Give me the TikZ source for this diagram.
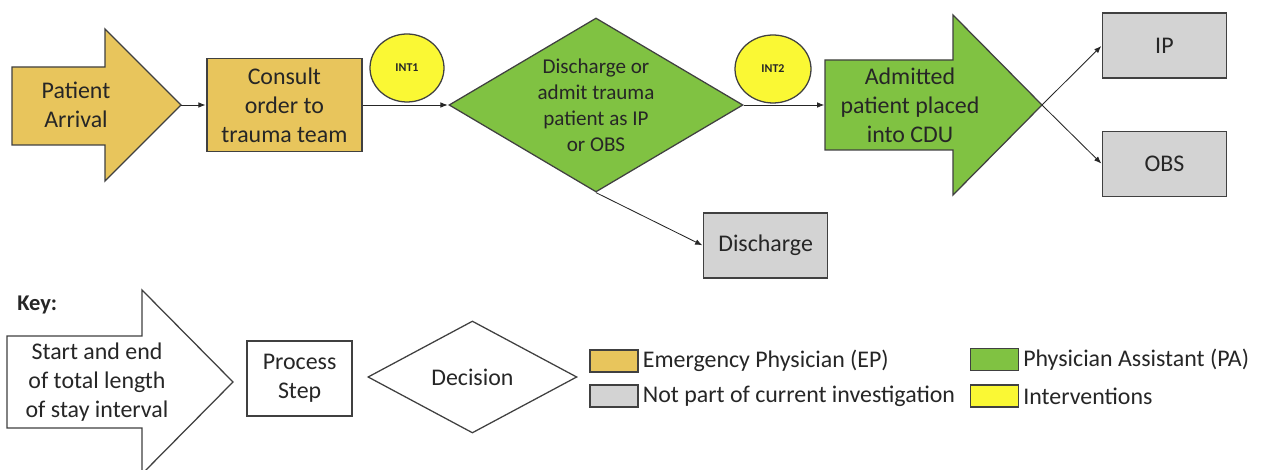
\documentclass[tikz,border=0pt]{standalone}
\usepackage{fontspec}
\setmainfont{Carlito}
\usetikzlibrary{arrows.meta,positioning,shapes.geometric}
\definecolor{epgold}{RGB}{232,197,92}
\definecolor{pagreen}{RGB}{128,194,66}
\definecolor{notgrey}{RGB}{211,211,211}
\definecolor{intyellow}{RGB}{250,248,52}

\begin{document}
\begin{tikzpicture}[
  font=\fontsize{17}{20.5}\selectfont,text=black!85,
  outline/.style={draw=black!75,line width=0.9pt},
  box/.style={outline,align=center,inner sep=2pt,
    minimum width=31mm,minimum height=16.25mm},
  stepbox/.style={box,fill=epgold,minimum width=38.75mm,minimum height=23.25mm},
  greybox/.style={box,fill=notgrey},
  decide/.style={outline,diamond,aspect=1.7,inner sep=0pt,align=center},
  intnode/.style={outline,ellipse,fill=intyellow,minimum width=18.5mm,
    minimum height=17mm,inner sep=0pt,font=\fontsize{8.5}{10}\selectfont\bfseries},
  swatch/.style={outline,line width=0.8pt,minimum width=12mm,
    minimum height=5.5mm,inner sep=0pt},
  keytext/.style={inner sep=0pt},
  flow/.style={-{Latex[length=1.8mm,width=1.4mm]},
    draw=black!85,line width=0.6pt,shorten >=0.5pt}]
\path[use as bounding box,fill=white] (0,0) rectangle (31.575,11.75);

% start of stay
\draw[outline,fill=epgold] (0.3,10.075)--(2.625,10.075)--(2.625,11.025)--
  (4.525,9.125)--(2.625,7.225)--(2.625,8.125)--(0.3,8.125)--cycle;
\coordinate (arrival_tip) at (4.525,9.125);
\node[align=center] (arrival) at (1.9,9.125) {Patient\\Arrival};

\node[stepbox] (consult) at (7.11,9.125) {Consult\\order to\\trauma team};
\node[intnode] (int1) at (10.175,10.05) {INT1};
\node[decide,fill=pagreen,minimum width=73.5mm,minimum height=43.5mm,
  font=\fontsize{15}{18.4}\selectfont] (choice) at (14.9,9.125)
  {Discharge or\\admit trauma\\patient as IP\\or OBS};
\node[intnode,minimum width=19mm] (int2) at (19.325,10.025) {INT2};

% end of stay
\draw[outline,fill=pagreen] (20.625,10.25)--(23.825,10.25)--(23.825,11.375)--
  (26.05,9.125)--(23.825,6.875)--(23.825,8.0)--(20.625,8.0)--cycle;
\coordinate (cdu_tail) at (20.625,9.125);
\coordinate (cdu_tip) at (26.05,9.125);
\node[align=center] (cdu) at (22.75,9.125) {Admitted\\patient placed\\into CDU};

\node[greybox] (ip) at (29.11,10.61) {IP};
\node[greybox] (obs) at (29.11,7.65) {OBS};
\node[greybox] (discharge) at (19.14,5.61) {Discharge};

\draw[flow] (arrival_tip)--(consult.west);
\draw[flow] (consult.east)--(choice.west);
\draw[flow] (choice.east)--(cdu_tail);
\draw[flow] (cdu_tip)--(ip.west);
\draw[flow] (cdu_tip)--(obs.west);
\draw[flow] (choice.south)--(discharge.west);

% key
\node[anchor=west,inner sep=0pt,font=\fontsize{16}{19}\selectfont\bfseries]
  (keyhead) at (0.425,4.125) {Key:};
\draw[outline,fill=white] (0.175,3.35)--(3.55,3.35)--(3.55,4.5)--
  (5.825,2.2)--(3.55,-0.1)--(3.55,1.05)--(0.175,1.05)--cycle;
\node[align=center] (keystay) at (2.425,2.2)
  {Start and end\\of total length\\of stay interval};
\node[box,fill=white,minimum width=26.25mm,minimum height=18.75mm]
  (keystep) at (7.49,2.29) {Process\\Step};
\node[decide,fill=white,aspect=1.87,minimum width=52.25mm,minimum height=28mm]
  (keydecide) at (11.81,2.325) {Decision};

\node[swatch,fill=epgold] (ep_key) at (15.35,2.725) {};
\node[swatch,fill=notgrey] (grey_key) at (15.35,1.85) {};
\node[swatch,fill=pagreen] (pa_key) at (24.86,2.76) {};
\node[swatch,fill=intyellow] (int_key) at (24.86,1.85) {};
\node[keytext,right=1mm of ep_key] (ep_text) {Emergency Physician (EP)};
\node[keytext,right=1mm of grey_key] (grey_text) {Not part of current investigation};
\node[keytext,right=1mm of pa_key] (pa_text) {Physician Assistant (PA)};
\node[keytext,right=1mm of int_key] (int_text) {Interventions};
\end{tikzpicture}
\end{document}
